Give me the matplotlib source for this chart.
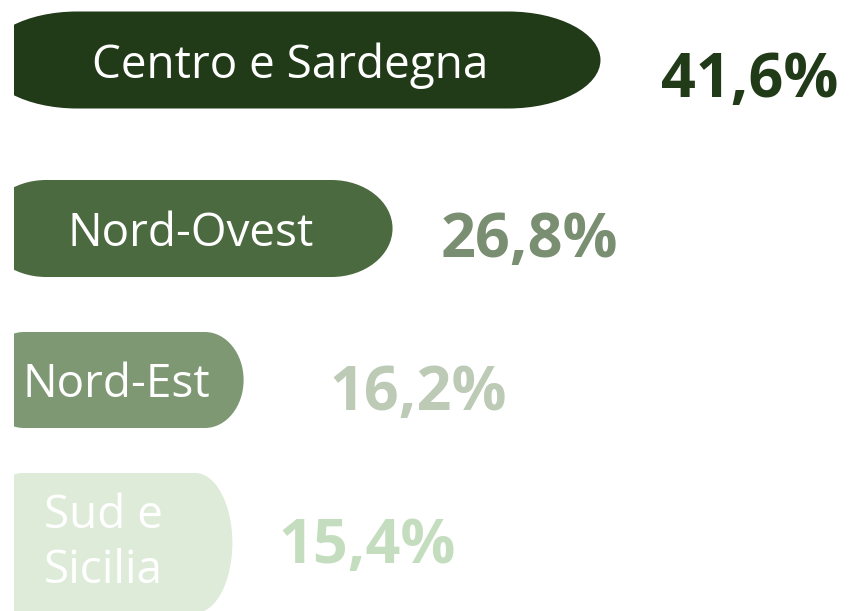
import matplotlib
matplotlib.use("Agg")
import matplotlib.pyplot as plt
from matplotlib.path import Path
from matplotlib.patches import PathPatch

# ---- data ----
categories = ["Centro e Sardegna", "Nord-Ovest", "Nord-Est", "Sud e\nSicilia"]
values = [41.6, 26.8, 16.2, 15.4]
value_labels = ["41,6%", "26,8%", "16,2%", "15,4%"]

# ---- styles / layout ----
bar_colors = ["#213a18", "#4b6a3f", "#7e9873", "#ddebd8"]
value_colors = ["#213a18", "#7a8f72", "#bccab6", "#c5ddbf"]
y_centers = [60, 228.5, 380, 543]          # pixel rows
bar_heights = [97, 97, 96, 140]
label_x = [290, 191, 116, 103]             # label centres (pixels)
label_baseline = [78, 246, 397, 528]       # first-line baselines (pixels)
label_line_step = 55
value_gap = [4.3, 3.4, 6.1, 3.3]           # gap between bar end and value text (data units)
value_baseline = [97, 257, 410, 563]

W, H = 849, 611
PX0 = 16.0      # pixel where value 0 sits
K = 14.05       # pixels per unit
LEFT_EXT = 31 / K   # bars start slightly outside the visible left edge

fig = plt.figure(figsize=(W / 100, H / 100), dpi=100)
fig.patch.set_facecolor("white")
ax = fig.add_axes([14 / W, 0, (W - 14) / W, 1])
ax.set_xlim((14 - PX0) / K, (W - PX0) / K)
ax.set_ylim(H, 0)
ax.axis("off")


def px_to_data(px):
    return (px - PX0) / K


def pill(x0, x1, yc, h, rx):
    ry = h / 2
    k = 0.5523
    t, b = yc - ry, yc + ry
    verts = [
        (x0 + rx, t), (x1 - rx, t),
        (x1 - rx + k * rx, t), (x1, yc - k * ry), (x1, yc),
        (x1, yc + k * ry), (x1 - rx + k * rx, b), (x1 - rx, b),
        (x0 + rx, b),
        (x0 + rx - k * rx, b), (x0, yc + k * ry), (x0, yc),
        (x0, yc - k * ry), (x0 + rx - k * rx, t), (x0 + rx, t),
        (x0 + rx, t),
    ]
    codes = [Path.MOVETO, Path.LINETO,
             Path.CURVE4, Path.CURVE4, Path.CURVE4,
             Path.CURVE4, Path.CURVE4, Path.CURVE4,
             Path.LINETO,
             Path.CURVE4, Path.CURVE4, Path.CURVE4,
             Path.CURVE4, Path.CURVE4, Path.CURVE4,
             Path.CLOSEPOLY]
    return Path(verts, codes)


for i, (cat, v) in enumerate(zip(categories, values)):
    x0 = -LEFT_EXT
    x1 = v
    rx = 0.15 * (x1 - x0)
    p = pill(x0, x1, y_centers[i], bar_heights[i], rx)
    ax.add_patch(PathPatch(p, facecolor=bar_colors[i], edgecolor="none"))
    for j, line in enumerate(cat.split("\n")):
        ax.text(px_to_data(label_x[i]), label_baseline[i] + j * label_line_step, line,
                ha="center", va="baseline", color="white",
                fontsize=33, family="Open Sans")
    ax.text(v + value_gap[i], value_baseline[i], value_labels[i],
            ha="left", va="baseline", color=value_colors[i],
            fontsize=44, family="Open Sans", fontweight="bold")

fig.savefig("out.png", dpi=100, facecolor="white")
